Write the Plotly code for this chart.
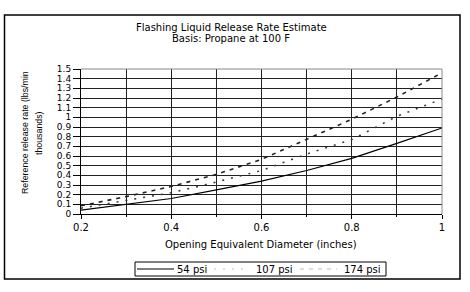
import plotly.graph_objects as go

diam = [0.2, 0.3, 0.4, 0.5, 0.6, 0.7, 0.8, 0.9, 1.0]
psi54 = [0.04, 0.10, 0.16, 0.25, 0.34, 0.45, 0.575, 0.73, 0.89]
psi107 = [0.06, 0.14, 0.22, 0.33, 0.45, 0.62, 0.77, 1.01, 1.19]
psi174 = [0.085, 0.18, 0.285, 0.41, 0.565, 0.77, 0.98, 1.21, 1.46]
names = ["54 psi", "107 psi", "174 psi"]

FONT = "DejaVu Sans, sans-serif"
NARROW = "Liberation Sans, Arial, sans-serif"
W, H = 470, 292
L, R, T, B = 81, 28, 69, 78
pw, ph = W - L - R, H - T - B

def px(x):
    return (x - L) / pw

def py(y):
    return (H - B - y) / ph

styles = [
    dict(color="black", width=1.2),
    dict(color="#333333", width=1.5, dash="2px,7px"),
    dict(color="#222222", width=1.6, dash="4px,5px"),
]
series = [psi54, psi107, psi174]

fig = go.Figure()
for nm, ys, st in zip(names, series, styles):
    fig.add_trace(go.Scatter(x=diam, y=ys, name=nm, mode="lines", line=st,
                             showlegend=False))

fig.update_layout(
    width=W, height=H,
    margin=dict(l=L, r=R, t=T, b=B),
    paper_bgcolor="white", plot_bgcolor="white",
    font=dict(family=FONT, size=10, color="black"),
    showlegend=False,
    xaxis=dict(range=[0.2, 1.0], tick0=0.2, dtick=0.2, ticks="outside", ticklen=4,
               tickcolor="black", showline=True, linecolor="black", linewidth=1,
               showgrid=True, gridcolor="#222222", gridwidth=1.3,
               minor=dict(dtick=0.1, showgrid=True, gridcolor="#222222", gridwidth=1.3,
                          ticks="outside", ticklen=2, tickcolor="black"),
               zeroline=False, tickfont=dict(size=10, family=FONT, color="black"),
               automargin=False),
    yaxis=dict(range=[0, 1.5], dtick=0.1, ticks="outside", ticklen=7,
               tickcolor="black", showline=True, linecolor="black", linewidth=1,
               showgrid=True, gridcolor="#222222", gridwidth=1.3,
               zeroline=False, tickfont=dict(size=9, family=FONT, color="black"),
               automargin=False),
)

def note(text, x, y, size=10, family=FONT, angle=0, xanchor="center"):
    fig.add_annotation(text=text, xref="paper", yref="paper", x=px(x), y=py(y),
                       xanchor=xanchor, yanchor="middle", textangle=angle,
                       showarrow=False,
                       font=dict(size=size, family=family, color="black"))

# plot area top/right border (grey)
fig.add_shape(type="line", xref="paper", yref="paper", x0=0, x1=1, y0=1, y1=1,
              line=dict(color="#888888", width=1))
fig.add_shape(type="line", xref="paper", yref="paper", x0=1, x1=1, y0=0, y1=1,
              line=dict(color="#888888", width=1))

# outer chart frame
fig.add_shape(type="rect", xref="paper", yref="paper",
              x0=px(4.5), x1=px(460), y0=py(279), y1=py(15),
              line=dict(color="black", width=1.5), fillcolor="rgba(0,0,0,0)",
              layer="above")

# title
note("Flashing Liquid Release Rate Estimate", 231, 27)
note("Basis: Propane at 100 F", 231, 38)

# x axis title
note("Opening Equivalent Diameter (inches)", 261, 244)

# y axis title (two lines)
note("Reference release rate (lbs/min", 25, 133, size=8.8, family=NARROW, angle=-90)
note("thousands)", 39, 133, size=8.8, family=NARROW, angle=-90)

# legend (manual)
lx0, lx1, ly0, ly1 = 135, 386, 262, 276
fig.add_shape(type="rect", xref="paper", yref="paper",
              x0=px(lx0), x1=px(lx1), y0=py(ly1), y1=py(ly0),
              line=dict(color="black", width=1), fillcolor="white")
ly = (ly0 + ly1) / 2
samples = [(137, 174), (214, 250), (300, 337)]
text_x = [175, 254, 342]
for nm, st, (sx0, sx1), tx in zip(names, styles, samples, text_x):
    sst = dict(st)
    if nm != names[0]:
        sst["color"] = "#bbbbbb"
        sst["width"] = 1
    fig.add_shape(type="line", xref="paper", yref="paper",
                  x0=px(sx0), x1=px(sx1), y0=py(ly), y1=py(ly), line=sst)
    note(nm, tx, ly, xanchor="left")

fig.write_html("out.html")
